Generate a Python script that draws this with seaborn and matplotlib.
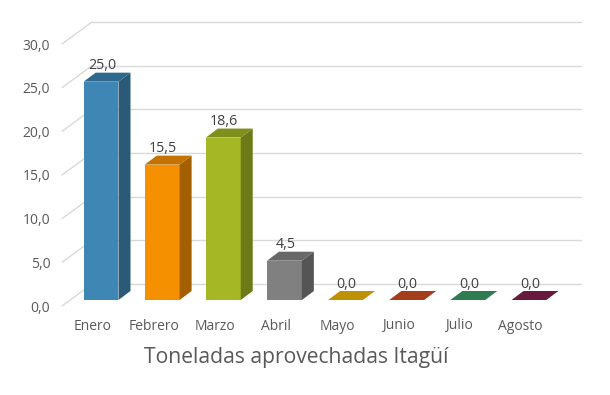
import numpy as np
import matplotlib
matplotlib.use("Agg")
import matplotlib.pyplot as plt
from matplotlib.patches import Polygon
from matplotlib.ticker import FuncFormatter
import seaborn as sns

# Datos
meses = ['Enero', 'Febrero', 'Marzo', 'Abril', 'Mayo', 'Junio', 'Julio', 'Agosto']
toneladas = [25.0, 15.5, 18.6, 4.5, 0.0, 0.0, 0.0, 0.0]
titulo = 'Toneladas aprovechadas Itagüí'

# colores: frente, lado, tapa
color_frente = ['#3e86b3', '#f59100', '#a6b726', '#808080', '#c09400', '#a63e1c', '#2f7f50', '#6a1a3f']
color_lado = ['#2a5a78', '#a45f00', '#6d7a17', '#555555', '#8a6a00', '#7a2c14', '#20583a', '#4a122c']
color_tapa = ['#2f6a8e', '#c47300', '#808f1c', '#686868', '#bf9000', '#a33d1c', '#2e7c4f', '#681a3e']

sns.set_style("white")
plt.rcParams['font.family'] = ['Open Sans', 'DejaVu Sans']

fig = plt.figure(figsize=(6.1, 3.95), dpi=100)
ax = fig.add_axes([62 / 610, 89 / 395, 489 / 610, 262 / 395])

sns.barplot(x=meses, y=toneladas, hue=meses, palette=color_frente, legend=False,
            width=0.57, saturation=1, ax=ax, zorder=3, edgecolor='none', linewidth=0)

ax.set_xlim(-0.5, 7.5)
ax.set_ylim(0, 30)

# conversion pixeles -> unidades de datos
bb = ax.get_window_extent()
ppx = bb.width / 8.0
ppy = bb.height / 30.0

def px(dx, dy):
    return dx / ppx, dy / ppy

bx, by = px(8.5, 6)      # desplazamiento del frente de las barras
dx, dy = px(12, 9)       # profundidad de las barras
wx, wy = px(30, 22)      # pared del fondo

# pared del fondo y lineas diagonales
grid_c = '#d9d9d9'
for t in range(0, 31, 5):
    ax.plot([-0.5 + wx, 7.5 + wx], [t + wy, t + wy], color=grid_c, lw=1.0, zorder=0, clip_on=False)
    ax.plot([-0.5, -0.5 + wx], [t, t + wy], color=grid_c, lw=1.0, zorder=0, clip_on=False)

# barras 3D
for i, patch in enumerate(ax.patches):
    v = toneladas[i]
    x0 = patch.get_x() + bx
    w = patch.get_width()
    x1 = x0 + w
    patch.set_x(x0)
    patch.set_y(by)
    patch.set_clip_on(False)
    top = by + v
    if v > 0:
        lado = Polygon([(x1, by), (x1, top), (x1 + dx, top + dy), (x1 + dx, by + dy)],
                       closed=True, facecolor=color_lado[i], edgecolor='none', zorder=3, clip_on=False)
        ax.add_patch(lado)
    tapa = Polygon([(x0, top), (x1, top), (x1 + dx, top + dy), (x0 + dx, top + dy)],
                   closed=True, facecolor=color_tapa[i], edgecolor='none', zorder=3, clip_on=False)
    ax.add_patch(tapa)
    ax.annotate(f'{v:.1f}'.replace('.', ','), (x0 + w / 2, top), xytext=(1, 16),
                textcoords='offset pixels', ha='center', va='center',
                fontsize=10.3, color='#404040', zorder=5, annotation_clip=False)

# ejes
sns.despine(ax=ax, left=True, bottom=True)
ax.set_yticks(range(0, 31, 5))
ax.yaxis.set_major_formatter(FuncFormatter(lambda y, p: f'{y:.1f}'.replace('.', ',')))
ax.tick_params(axis='y', length=0, pad=8.5, labelsize=10, labelcolor='#595959')
ax.tick_params(axis='x', length=0, pad=9, labelsize=10, labelcolor='#595959')
ax.set_xlabel('')
ax.set_ylabel('')
ax.grid(False)

fig.text(296 / 610, 1 - 357 / 395, titulo, ha='center', va='center', fontsize=15.2, color='#595959')

fig.savefig('out.png', dpi=100, facecolor='white')
